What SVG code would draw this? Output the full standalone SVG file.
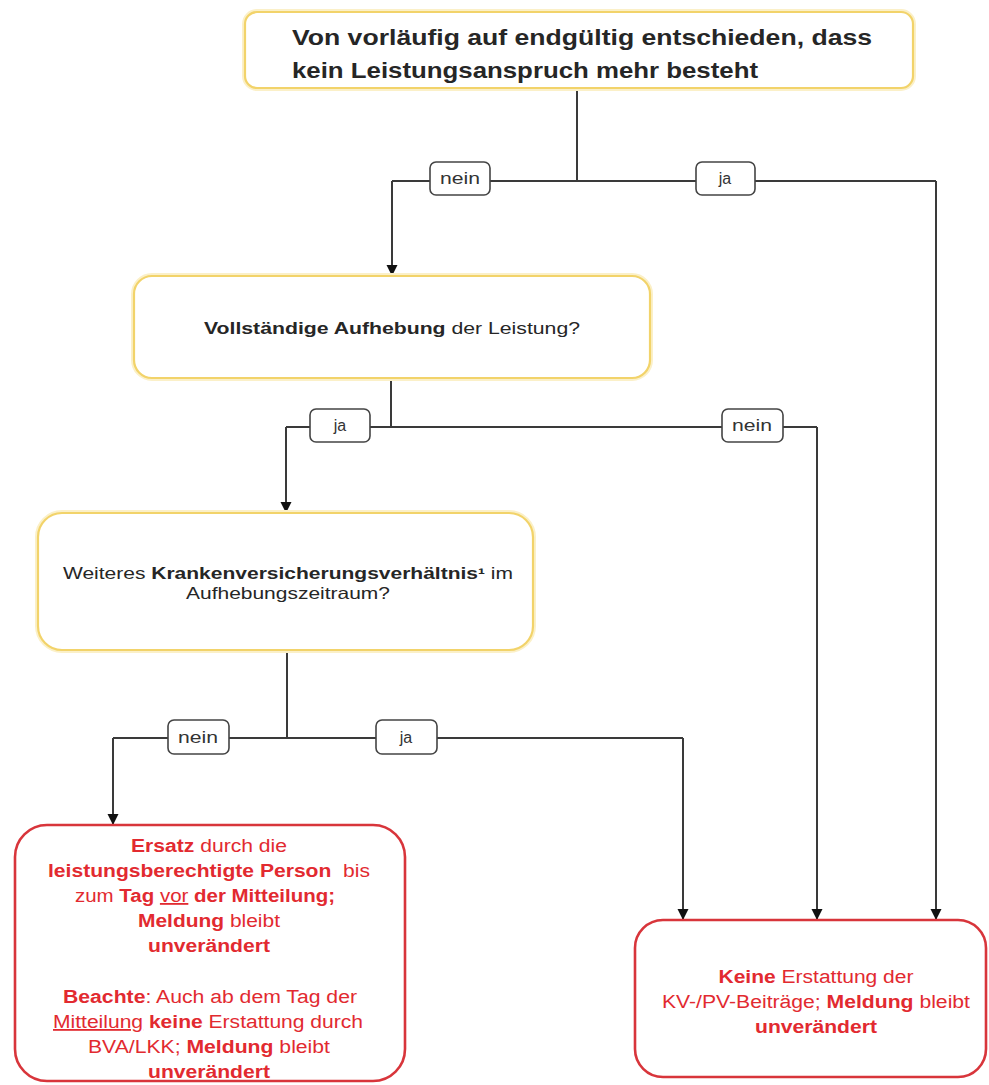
<svg xmlns="http://www.w3.org/2000/svg" width="989" height="1085" viewBox="0 0 989 1085">
<style>
.yg{fill:none;stroke:#FBF0C8;stroke-width:6}
.yb{fill:#fff;stroke:#F2D36A;stroke-width:2.2}
.rb{fill:#fff;stroke:#D8353B;stroke-width:2.6}
.lb{fill:#fff;stroke:#444;stroke-width:1.6}
.t{font-family:"Liberation Sans",Arial,sans-serif;fill:#262626}
.r{font-family:"Liberation Sans",Arial,sans-serif;fill:#E22A30;font-size:18px}
.b{font-weight:bold}
.lt{font-family:"Liberation Sans",Arial,sans-serif;fill:#333;font-size:16px}
.c{fill:none;stroke:#3a3a3a;stroke-width:2}
</style>
<defs>
<marker id="ah" markerUnits="userSpaceOnUse" markerWidth="12" markerHeight="12" refX="11" refY="6" orient="auto">
<path d="M0,0.5 L11,6 L0,11.5 z" fill="#111"/>
</marker>
</defs>
<g id="connectors">
<path class="c" d="M577,88 V181"/>
<path class="c" d="M392,181 H936"/>
<path class="c" d="M392,181 V276" marker-end="url(#ah)"/>
<path class="c" d="M936,181 V920" marker-end="url(#ah)"/>
<path class="c" d="M391,378 V427"/>
<path class="c" d="M286,427 H817"/>
<path class="c" d="M286,427 V513" marker-end="url(#ah)"/>
<path class="c" d="M817,427 V920" marker-end="url(#ah)"/>
<path class="c" d="M287,650 V738"/>
<path class="c" d="M113,738 H683"/>
<path class="c" d="M113,738 V825" marker-end="url(#ah)"/>
<path class="c" d="M683,738 V920" marker-end="url(#ah)"/>
<g id="label-nein-1"><rect class="lb" x="430" y="162" width="60" height="33" rx="6"/><text class="lt" x="460" y="184" text-anchor="middle" textLength="40" lengthAdjust="spacingAndGlyphs">nein</text></g>
<g id="label-ja-1"><rect class="lb" x="696" y="162" width="59" height="33" rx="6"/><text class="lt" x="725" y="184" text-anchor="middle">ja</text></g>
<g id="label-ja-2"><rect class="lb" x="310" y="409" width="60" height="33" rx="6"/><text class="lt" x="340" y="431" text-anchor="middle">ja</text></g>
<g id="label-nein-2"><rect class="lb" x="722" y="409" width="61" height="33" rx="6"/><text class="lt" x="752" y="431" text-anchor="middle" textLength="40" lengthAdjust="spacingAndGlyphs">nein</text></g>
<g id="label-nein-3"><rect class="lb" x="168" y="720" width="61" height="34" rx="6"/><text class="lt" x="198" y="743" text-anchor="middle" textLength="40" lengthAdjust="spacingAndGlyphs">nein</text></g>
<g id="label-ja-3"><rect class="lb" x="376" y="720" width="61" height="34" rx="6"/><text class="lt" x="406" y="743" text-anchor="middle">ja</text></g>
</g>
<g id="node-start">
<rect class="yg" x="245" y="12" width="668" height="76" rx="12"/>
<rect class="yb" x="245" y="12" width="668" height="76" rx="12"/>
<text class="t b" x="292" y="45" font-size="22" textLength="580" lengthAdjust="spacingAndGlyphs">Von vorläufig auf endgültig entschieden, dass</text>
<text class="t b" x="292" y="78" font-size="22" textLength="466" lengthAdjust="spacingAndGlyphs">kein Leistungsanspruch mehr besteht</text>
</g>
<g id="node-aufhebung">
<rect class="yg" x="134" y="276" width="516" height="102" rx="18"/>
<rect class="yb" x="134" y="276" width="516" height="102" rx="18"/>
<text class="t" x="392" y="334" font-size="17" text-anchor="middle" textLength="376" lengthAdjust="spacingAndGlyphs"><tspan class="b">Vollständige Aufhebung</tspan> der Leistung?</text>
</g>
<g id="node-kv">
<rect class="yg" x="38" y="513" width="495" height="137" rx="24"/>
<rect class="yb" x="38" y="513" width="495" height="137" rx="24"/>
<text class="t" x="288" y="579" font-size="16.5" text-anchor="middle" textLength="450" lengthAdjust="spacingAndGlyphs">Weiteres <tspan class="b">Krankenversicherungsverhältnis¹</tspan> im</text>
<text class="t" x="288" y="599" font-size="16.5" text-anchor="middle" textLength="204" lengthAdjust="spacingAndGlyphs">Aufhebungszeitraum?</text>
</g>
<g id="node-ersatz">
<rect class="rb" x="15" y="825" width="390" height="256" rx="32"/>
<text class="r" x="209" y="852" text-anchor="middle" textLength="156" lengthAdjust="spacingAndGlyphs"><tspan class="b">Ersatz</tspan> durch die</text>
<text class="r" x="209" y="877" text-anchor="middle" textLength="322" lengthAdjust="spacingAndGlyphs" xml:space="preserve"><tspan class="b">leistungsberechtigte Person</tspan>  bis</text>
<text class="r" x="205" y="902" text-anchor="middle" textLength="260" lengthAdjust="spacingAndGlyphs">zum <tspan class="b">Tag</tspan> <tspan text-decoration="underline">vor</tspan> <tspan class="b">der Mitteilung;</tspan></text>
<text class="r" x="209" y="927" text-anchor="middle" textLength="142" lengthAdjust="spacingAndGlyphs"><tspan class="b">Meldung</tspan> bleibt</text>
<text class="r b" x="209" y="952" text-anchor="middle" textLength="122" lengthAdjust="spacingAndGlyphs">unverändert</text>
<text class="r" x="210" y="1003" text-anchor="middle" textLength="294" lengthAdjust="spacingAndGlyphs"><tspan class="b">Beachte</tspan>: Auch ab dem Tag der</text>
<text class="r" x="208" y="1028" text-anchor="middle" textLength="310" lengthAdjust="spacingAndGlyphs"><tspan text-decoration="underline">Mitteilung</tspan> <tspan class="b">keine</tspan> Erstattung durch</text>
<text class="r" x="209" y="1053" text-anchor="middle" textLength="242" lengthAdjust="spacingAndGlyphs">BVA/LKK; <tspan class="b">Meldung</tspan> bleibt</text>
<text class="r b" x="209" y="1078" text-anchor="middle" textLength="122" lengthAdjust="spacingAndGlyphs">unverändert</text>
</g>
<g id="node-keine">
<rect class="rb" x="635" y="920" width="351" height="157" rx="28"/>
<text class="r" x="816" y="983" text-anchor="middle" textLength="195" lengthAdjust="spacingAndGlyphs"><tspan class="b">Keine</tspan> Erstattung der</text>
<text class="r" x="816" y="1008" text-anchor="middle" textLength="308" lengthAdjust="spacingAndGlyphs">KV-/PV-Beiträge; <tspan class="b">Meldung</tspan> bleibt</text>
<text class="r b" x="816" y="1033" text-anchor="middle" textLength="122" lengthAdjust="spacingAndGlyphs">unverändert</text>
</g>
</svg>
